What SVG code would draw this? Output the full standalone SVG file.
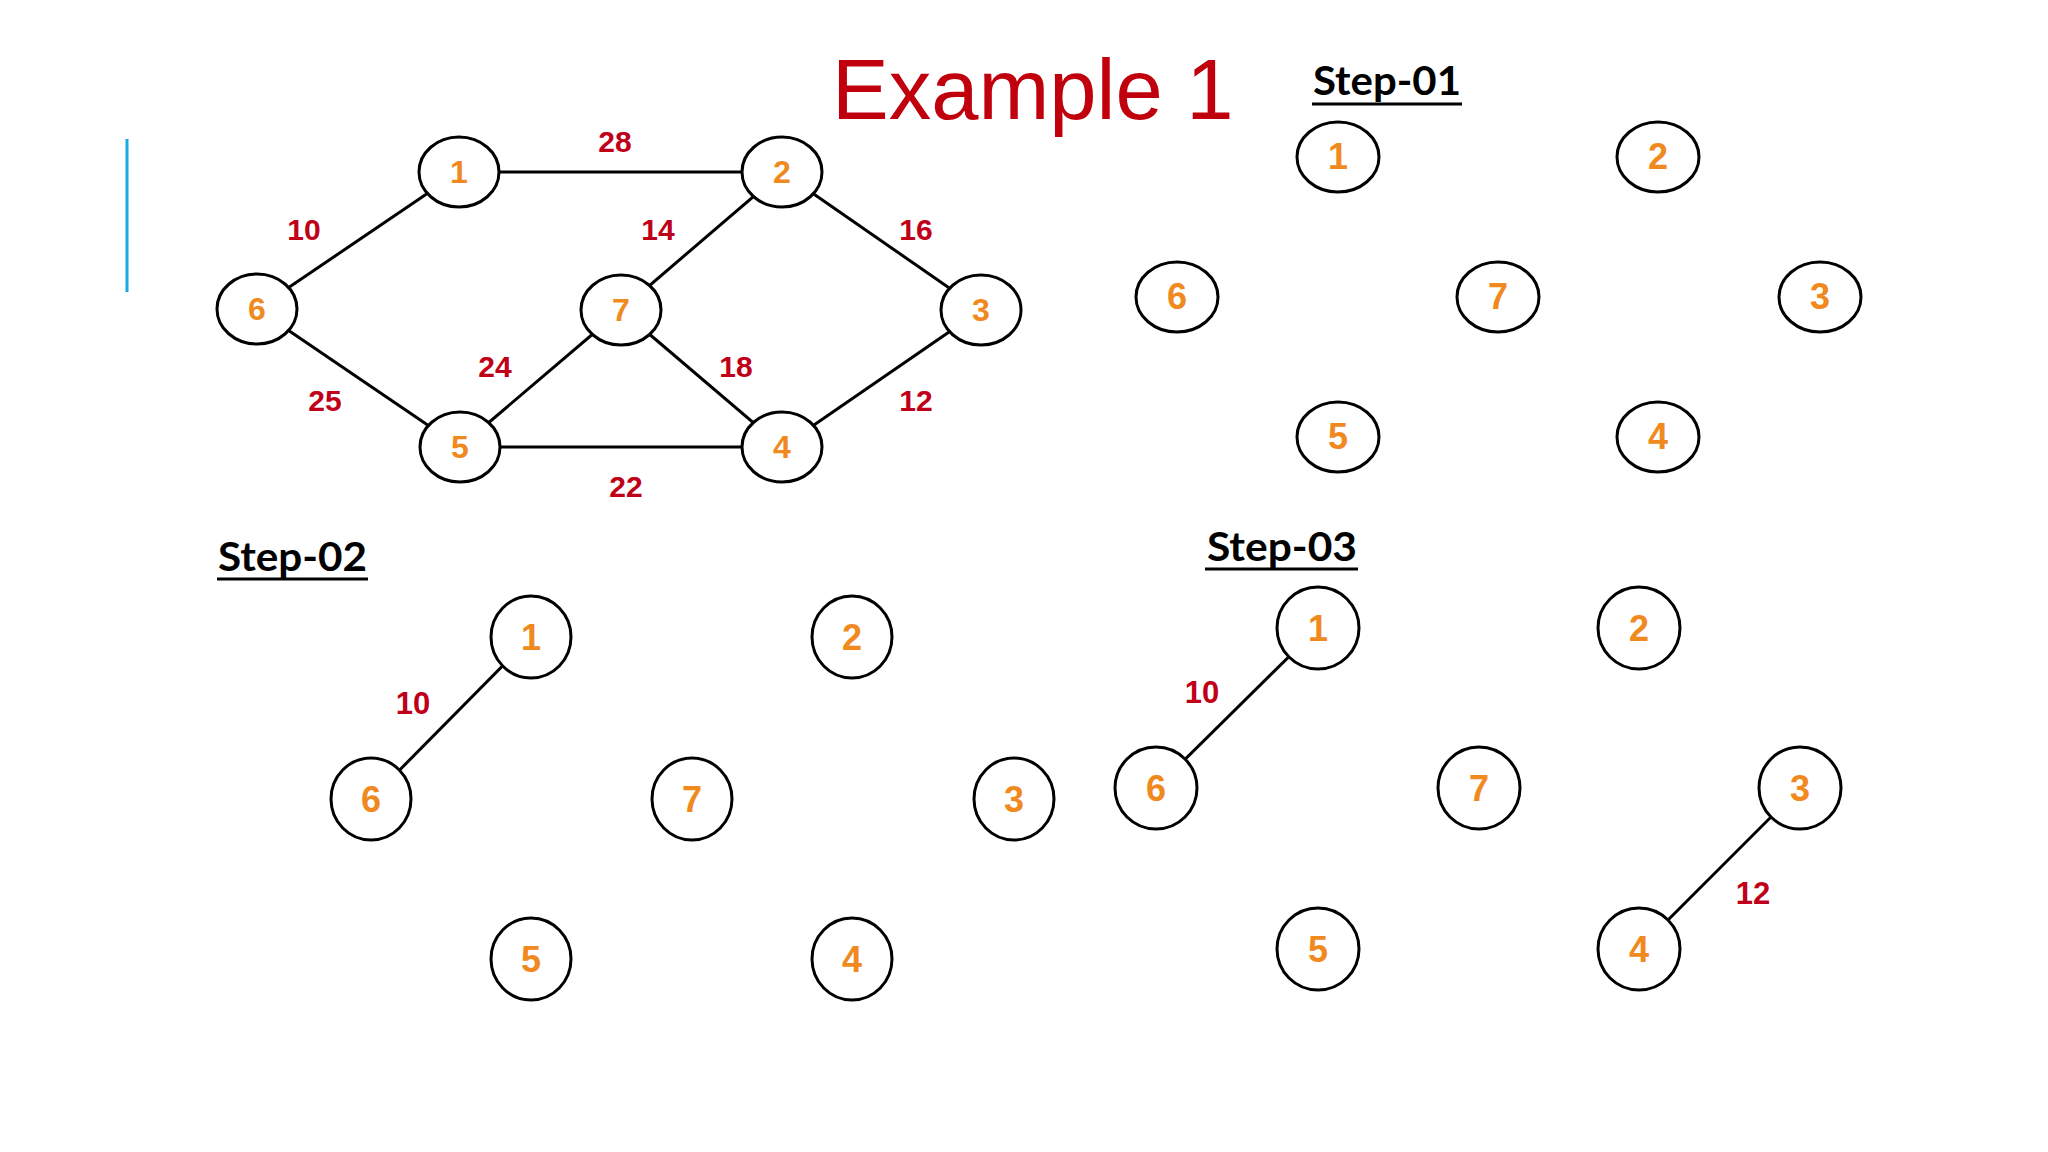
<svg xmlns="http://www.w3.org/2000/svg" width="2048" height="1152" viewBox="0 0 2048 1152">
<style>
.bg{fill:#ffffff}
.n{fill:#ffffff;stroke:#000000;stroke-width:3}
.e{stroke:#000000;stroke-width:3;fill:none}
.nt{font-family:"Liberation Sans",Arial,sans-serif;font-weight:bold;fill:#f0891e;text-anchor:middle}
.m{font-size:32px}
.s{font-size:36px}
.w{font-family:"Liberation Sans",Arial,sans-serif;font-weight:bold;fill:#c00018;text-anchor:middle}
.wm{font-size:30px}
.ws{font-size:31px}
.step{font-family:Lato,"Open Sans",sans-serif;font-weight:bold;font-size:40px;fill:#000000}
.ul{stroke:#000000;stroke-width:3}
</style>
<rect class="bg" x="0" y="0" width="2048" height="1152"/>
<line x1="127" y1="139" x2="127" y2="292" stroke="#1aa9e2" stroke-width="3"/>
<text x="832" y="119" font-family="'Liberation Sans',Arial,sans-serif" font-size="85" fill="#c0000c">Example 1</text>

<!-- Main graph -->
<g id="main-connectors">
<line class="e" x1="459" y1="172" x2="782" y2="172"/>
<line class="e" x1="459" y1="172" x2="257" y2="309"/>
<line class="e" x1="782" y1="172" x2="621" y2="310"/>
<line class="e" x1="782" y1="172" x2="981" y2="310"/>
<line class="e" x1="257" y1="309" x2="460" y2="447"/>
<line class="e" x1="621" y1="310" x2="460" y2="447"/>
<line class="e" x1="621" y1="310" x2="782" y2="447"/>
<line class="e" x1="981" y1="310" x2="782" y2="447"/>
<line class="e" x1="460" y1="447" x2="782" y2="447"/>
</g>
<g id="main-weights">
<text class="w wm" x="615" y="152">28</text>
<text class="w wm" x="304" y="240">10</text>
<text class="w wm" x="658" y="240">14</text>
<text class="w wm" x="916" y="240">16</text>
<text class="w wm" x="495" y="377">24</text>
<text class="w wm" x="736" y="377">18</text>
<text class="w wm" x="325" y="411">25</text>
<text class="w wm" x="916" y="411">12</text>
<text class="w wm" x="626" y="497">22</text>
</g>
<g id="m1"><ellipse class="n" cx="459" cy="172" rx="40" ry="35"/><text class="nt m" x="459" y="183">1</text></g>
<g id="m2"><ellipse class="n" cx="782" cy="172" rx="40" ry="35"/><text class="nt m" x="782" y="183">2</text></g>
<g id="m6"><ellipse class="n" cx="257" cy="309" rx="40" ry="35"/><text class="nt m" x="257" y="320">6</text></g>
<g id="m7"><ellipse class="n" cx="621" cy="310" rx="40" ry="35"/><text class="nt m" x="621" y="321">7</text></g>
<g id="m3"><ellipse class="n" cx="981" cy="310" rx="40" ry="35"/><text class="nt m" x="981" y="321">3</text></g>
<g id="m5"><ellipse class="n" cx="460" cy="447" rx="40" ry="35"/><text class="nt m" x="460" y="458">5</text></g>
<g id="m4"><ellipse class="n" cx="782" cy="447" rx="40" ry="35"/><text class="nt m" x="782" y="458">4</text></g>

<!-- Step-01 -->
<g id="step01-title"><text class="step" x="1313" y="95" textLength="148" lengthAdjust="spacingAndGlyphs">Step-01</text><line class="ul" x1="1312" y1="104" x2="1462" y2="104"/></g>
<g id="a1"><ellipse class="n" cx="1338" cy="157" rx="41" ry="35"/><text class="nt s" x="1338" y="169">1</text></g>
<g id="a2"><ellipse class="n" cx="1658" cy="157" rx="41" ry="35"/><text class="nt s" x="1658" y="169">2</text></g>
<g id="a6"><ellipse class="n" cx="1177" cy="297" rx="41" ry="35"/><text class="nt s" x="1177" y="309">6</text></g>
<g id="a7"><ellipse class="n" cx="1498" cy="297" rx="41" ry="35"/><text class="nt s" x="1498" y="309">7</text></g>
<g id="a3"><ellipse class="n" cx="1820" cy="297" rx="41" ry="35"/><text class="nt s" x="1820" y="309">3</text></g>
<g id="a5"><ellipse class="n" cx="1338" cy="437" rx="41" ry="35"/><text class="nt s" x="1338" y="449">5</text></g>
<g id="a4"><ellipse class="n" cx="1658" cy="437" rx="41" ry="35"/><text class="nt s" x="1658" y="449">4</text></g>

<!-- Step-02 -->
<g id="step02-title"><text class="step" x="218" y="571" textLength="149" lengthAdjust="spacingAndGlyphs">Step-02</text><line class="ul" x1="217" y1="579" x2="368" y2="579"/></g>
<g id="step02-connectors"><line class="e" x1="371" y1="799" x2="531" y2="637"/></g>
<text class="w ws" x="413" y="714">10</text>
<g id="b1"><ellipse class="n" cx="531" cy="637" rx="40" ry="41"/><text class="nt s" x="531" y="650">1</text></g>
<g id="b2"><ellipse class="n" cx="852" cy="637" rx="40" ry="41"/><text class="nt s" x="852" y="650">2</text></g>
<g id="b6"><ellipse class="n" cx="371" cy="799" rx="40" ry="41"/><text class="nt s" x="371" y="812">6</text></g>
<g id="b7"><ellipse class="n" cx="692" cy="799" rx="40" ry="41"/><text class="nt s" x="692" y="812">7</text></g>
<g id="b3"><ellipse class="n" cx="1014" cy="799" rx="40" ry="41"/><text class="nt s" x="1014" y="812">3</text></g>
<g id="b5"><ellipse class="n" cx="531" cy="959" rx="40" ry="41"/><text class="nt s" x="531" y="972">5</text></g>
<g id="b4"><ellipse class="n" cx="852" cy="959" rx="40" ry="41"/><text class="nt s" x="852" y="972">4</text></g>

<!-- Step-03 -->
<g id="step03-title"><text class="step" x="1207" y="561" textLength="150" lengthAdjust="spacingAndGlyphs">Step-03</text><line class="ul" x1="1205" y1="569" x2="1358" y2="569"/></g>
<g id="step03-connectors">
<line class="e" x1="1156" y1="788" x2="1318" y2="628"/>
<line class="e" x1="1800" y1="788" x2="1639" y2="949"/>
</g>
<text class="w ws" x="1202" y="703">10</text>
<text class="w ws" x="1753" y="904">12</text>
<g id="c1"><ellipse class="n" cx="1318" cy="628" rx="41" ry="41"/><text class="nt s" x="1318" y="641">1</text></g>
<g id="c2"><ellipse class="n" cx="1639" cy="628" rx="41" ry="41"/><text class="nt s" x="1639" y="641">2</text></g>
<g id="c6"><ellipse class="n" cx="1156" cy="788" rx="41" ry="41"/><text class="nt s" x="1156" y="801">6</text></g>
<g id="c7"><ellipse class="n" cx="1479" cy="788" rx="41" ry="41"/><text class="nt s" x="1479" y="801">7</text></g>
<g id="c3"><ellipse class="n" cx="1800" cy="788" rx="41" ry="41"/><text class="nt s" x="1800" y="801">3</text></g>
<g id="c5"><ellipse class="n" cx="1318" cy="949" rx="41" ry="41"/><text class="nt s" x="1318" y="962">5</text></g>
<g id="c4"><ellipse class="n" cx="1639" cy="949" rx="41" ry="41"/><text class="nt s" x="1639" y="962">4</text></g>
</svg>
